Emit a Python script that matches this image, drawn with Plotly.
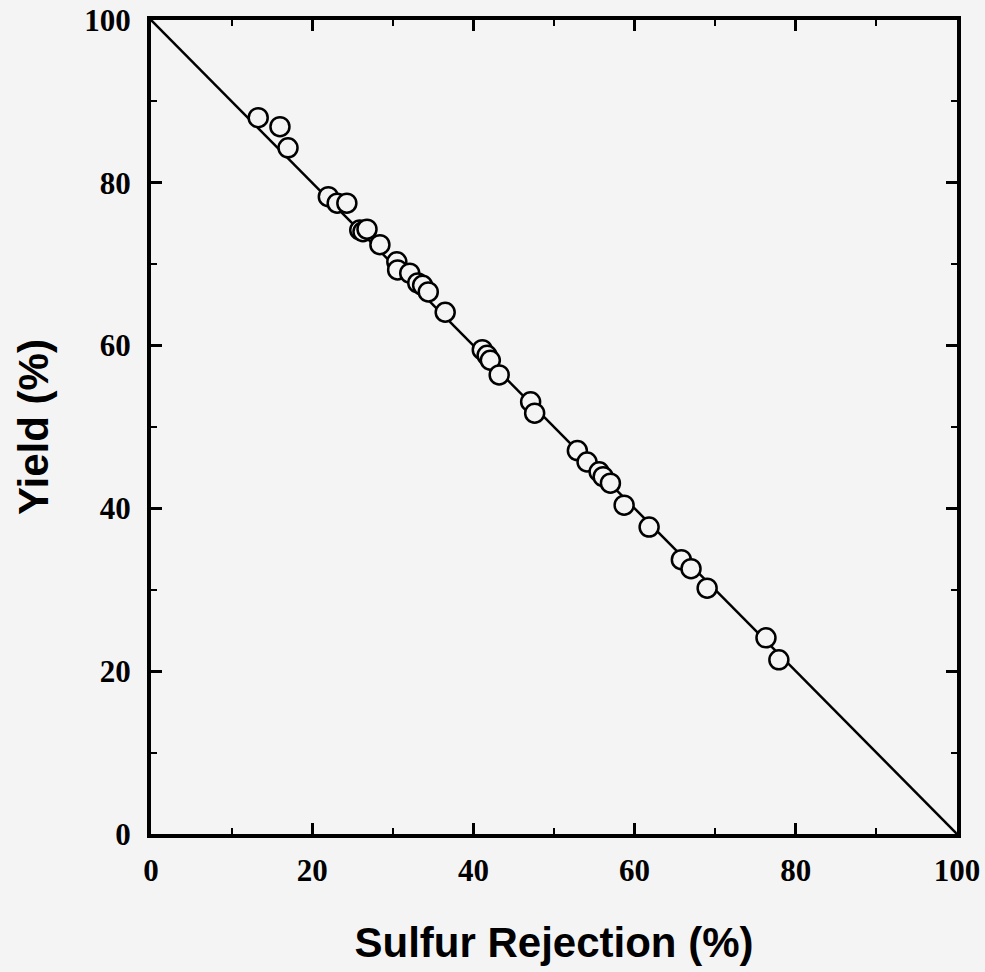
import plotly.graph_objects as go

# sulfur rejection (%) vs yield (%)
rejection = [13.3, 16.0, 17.0, 22.0, 23.1, 24.3, 25.9, 26.3, 26.8, 28.4,
             30.5, 30.6, 32.1, 33.1, 33.7, 34.4, 36.5, 41.1, 41.7, 42.1,
             43.2, 47.1, 47.6, 52.9, 54.1, 55.6, 56.1, 57.0, 58.7, 61.8,
             65.8, 67.0, 69.0, 76.3, 77.9]
yield_pct = [88.0, 86.9, 84.3, 78.3, 77.5, 77.5, 74.2, 74.0, 74.3, 72.4,
             70.3, 69.3, 68.9, 67.7, 67.4, 66.6, 64.1, 59.5, 58.8, 58.2,
             56.4, 53.1, 51.7, 47.1, 45.7, 44.5, 43.9, 43.1, 40.4, 37.7,
             33.7, 32.6, 30.2, 24.1, 21.4]

line_x = [0, 100]
line_y = [100, 0]

bg = "#f4f4f4"

fig = go.Figure()
fig.add_trace(go.Scatter(x=line_x, y=line_y, mode="lines",
                         line=dict(color="black", width=2.5), hoverinfo="skip"))
fig.add_trace(go.Scatter(x=rejection, y=yield_pct, mode="markers",
                         marker=dict(symbol="circle", size=19, color=bg,
                                     line=dict(color="black", width=2.5))))

tickfont = dict(family="Liberation Serif", size=31, color="black", weight="bold")
titlefont = dict(family="Liberation Sans", size=42, color="black", weight="bold")
axis = dict(range=[0, 100], tickvals=[0, 20, 40, 60, 80, 100],
            showgrid=False, zeroline=False, showline=True, linecolor="black",
            linewidth=4, mirror="ticks", ticks="inside", ticklen=11, tickwidth=3,
            tickcolor="black", tickfont=tickfont, automargin=False,
            minor=dict(ticks="inside", ticklen=6, tickwidth=2, tickcolor="black",
                       dtick=10, showgrid=False))

fig.update_layout(
    width=985, height=972,
    paper_bgcolor=bg, plot_bgcolor=bg,
    showlegend=False,
    margin=dict(l=151, r=28, t=20, b=138),
    xaxis=dict(**axis, ticklabelstandoff=6,
               title=dict(text="Sulfur Rejection (%)", font=titlefont, standoff=41)),
    yaxis=dict(**axis, ticklabelstandoff=10,
               title=dict(text="Yield (%)", font=titlefont, standoff=24)),
)

fig.write_html("out.html", config={"displayModeBar": False},
               post_script="document.body.style.margin='0';")
